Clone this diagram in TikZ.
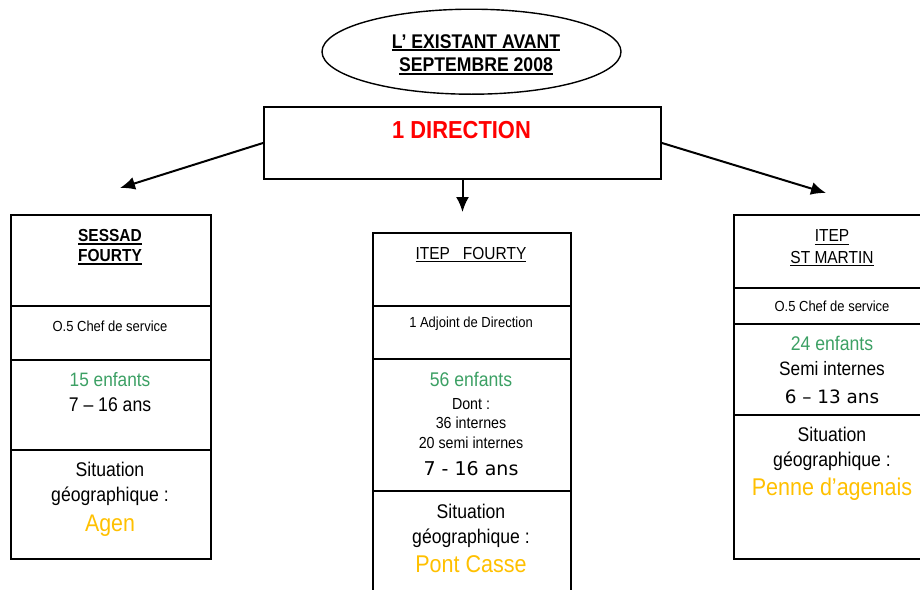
\documentclass[tikz,border=0pt]{standalone}
\usepackage{fontspec}
\setmainfont[FakeStretch=0.89]{Liberation Sans}
\newfontfamily\comicfont{DejaVu Sans}
\usepackage{xcolor}
\usepackage{tikz}
\usetikzlibrary{arrows.meta,shapes.geometric}

\definecolor{enfvert}{RGB}{60,160,100}
\definecolor{villejaune}{RGB}{255,192,0}
\newcommand{\souligne}[2][0.6pt]{\setbox0=\hbox{#2}\rlap{\rule[-1.6pt]{\wd0}{#1}}\box0}
\newcommand{\fs}[1]{\fontsize{#1}{#1}\selectfont}

\begin{document}
\begin{tikzpicture}[x=0.5pt, y=-0.5pt, >={Latex[length=7.5pt,width=6.5pt]},
  cell/.style = {draw, line width=1pt, anchor=north west, inner sep=0pt},
  ln/.style = {anchor=base, inner sep=0pt}]
\useasboundingbox (0,0) rectangle (920,589);
\clip (0,0) rectangle (920,589);

% titre
\node[draw, ellipse, line width=0.7pt, minimum width=149.5pt, minimum height=42.5pt, inner sep=0pt] (titre) at (471.5,51.7) {};
\node[ln, font=\fs{9.9}\bfseries] (titre1) at (476,48) {\souligne[0.9pt]{L’ EXISTANT AVANT}};
\node[ln, font=\fs{9.9}\bfseries] (titre2) at (476,71.7) {\souligne[0.9pt]{SEPTEMBRE 2008}};

% direction
\node[cell, minimum width=198.5pt, minimum height=36pt] (dir) at (263,106) {};
\node[ln, font=\fs{12.3}\bfseries, text=red] (dirtxt) at (461.5,138.3) {1 DIRECTION};

% SESSAD
\node[cell, minimum width=100pt, minimum height=45.5pt] (sessad) at (10,214) {};
\node[cell, minimum width=100pt, minimum height=27pt] (sessadchef) at (10,305) {};
\node[cell, minimum width=100pt, minimum height=45pt] (sessadenf) at (10,359) {};
\node[cell, minimum width=100pt, minimum height=54.5pt] (sessadgeo) at (10,449) {};
\node[ln, font=\fs{8.7}\bfseries] (sessad1) at (110,241.7) {\souligne[0.9pt]{SESSAD}};
\node[ln, font=\fs{8.7}\bfseries] (sessad2) at (110,261.7) {\souligne[0.9pt]{FOURTY}};
\node[ln, font=\fs{7.3}] (sessadchef1) at (110,331.7) {O.5 Chef de service};
\node[ln, font=\fs{9.7}, text=enfvert] (sessadenf1) at (110,386.7) {15 enfants};
\node[ln, font=\fs{9.9}] (sessadenf2) at (110,411.7) {7 – 16 ans};
\node[ln, font=\fs{9.9}] (sessadgeo1) at (110,476.7) {Situation};
\node[ln, font=\fs{9.9}] (sessadgeo2) at (110,501.7) {géographique :};
\node[ln, font=\fs{12}, text=villejaune] (sessadgeo3) at (110,531.7) {Agen};

% ITEP FOURTY
\node[cell, minimum width=99pt, minimum height=36.5pt] (fourty) at (372,232) {};
\node[cell, minimum width=99pt, minimum height=26.5pt] (fourtychef) at (372,305) {};
\node[cell, minimum width=99pt, minimum height=66pt] (fourtyenf) at (372,358) {};
\node[cell, minimum width=99pt, minimum height=55pt] (fourtygeo) at (372,490) {};
\node[ln, font=\fs{8.7}] (fourty1) at (471,259) {\souligne{ITEP\ \ \ FOURTY}};
\node[ln, font=\fs{7.3}] (fourtychef1) at (471,327) {1 Adjoint de Direction};
\node[ln, font=\fs{9.9}, text=enfvert] (fourtyenf1) at (471,386.5) {56 enfants};
\node[ln, font=\fs{8}] (fourtyenf2) at (471,409) {Dont :};
\node[ln, font=\fs{8}] (fourtyenf3) at (471,428) {36 internes};
\node[ln, font=\fs{8}] (fourtyenf4) at (471,448) {20 semi internes};
\node[ln, font=\fs{9.5}\comicfont] (fourtyenf5) at (471,475) {7 - 16 ans};
\node[ln, font=\fs{9.9}] (fourtygeo1) at (471,518) {Situation};
\node[ln, font=\fs{9.9}] (fourtygeo2) at (471,543) {géographique :};
\node[ln, font=\fs{12.1}, text=villejaune] (fourtygeo3) at (471,572) {Pont Casse};

% ITEP ST MARTIN
\node[cell, minimum width=99pt, minimum height=36.5pt] (martin) at (733,214) {};
\node[cell, minimum width=99pt, minimum height=18pt] (martinchef) at (733,287) {};
\node[cell, minimum width=99pt, minimum height=45.5pt] (martinenf) at (733,323) {};
\node[cell, minimum width=99pt, minimum height=71.85pt] (martingeo) at (733,414) {};
\node[ln, font=\fs{8.7}] (martin1) at (832,241.7) {\souligne{ITEP}};
\node[ln, font=\fs{8.7}] (martin2) at (832,263) {\souligne{ST MARTIN}};
\node[ln, font=\fs{7.3}] (martinchef1) at (832,311.7) {O.5 Chef de service};
\node[ln, font=\fs{9.9}, text=enfvert] (martinenf1) at (832,350.7) {24 enfants};
\node[ln, font=\fs{9.7}] (martinenf2) at (832,375) {Semi internes};
\node[ln, font=\fs{9.2}\comicfont] (martinenf3) at (832,403) {6 – 13 ans};
\node[ln, font=\fs{9.9}] (martingeo1) at (832,441.7) {Situation};
\node[ln, font=\fs{9.9}] (martingeo2) at (832,466.7) {géographique :};
\node[ln, font=\fs{12.1}, text=villejaune] (martingeo3) at (832,495) {Penne d’agenais};

% fleches
\coordinate (fsessad) at (120,188);
\coordinate (ffourty) at (461.5,212);
\coordinate (fmartin) at (826,193);
\draw[->, line width=1pt] (dir.west) -- (fsessad);
\draw[->, line width=1pt] (dir.south) -- (dir.south |- ffourty);
\draw[->, line width=1pt] (dir.east) -- (fmartin);
\end{tikzpicture}
\end{document}
